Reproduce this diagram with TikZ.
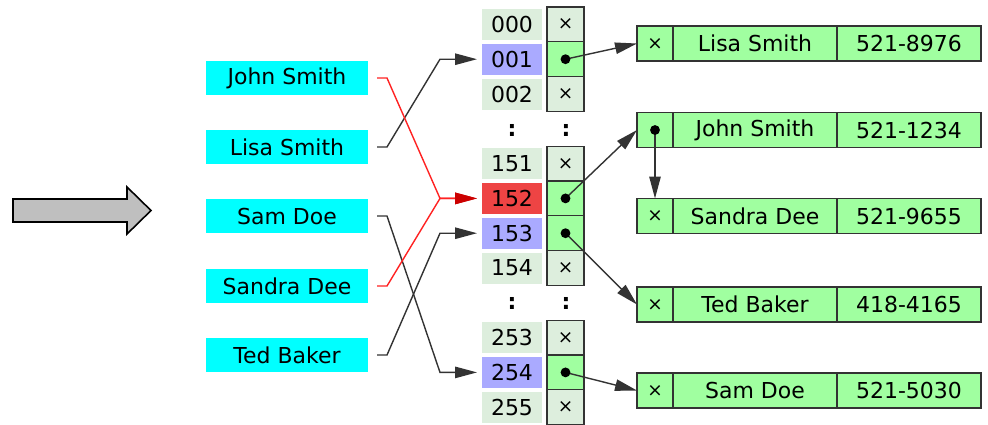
\documentclass[tikz,border=0pt]{standalone}
\usepackage{fontspec}
\setmainfont{DejaVu Sans}
\usetikzlibrary{arrows.meta, positioning, calc}

\definecolor{keycyan}{HTML}{00FFFF}
\definecolor{slotgray}{HTML}{DDEEDD}
\definecolor{slotblue}{HTML}{AAAAFF}
\definecolor{slotred}{HTML}{EE4444}
\definecolor{recgreen}{HTML}{A0FFA0}
\definecolor{edgegray}{HTML}{333333}
\definecolor{linkred}{HTML}{FF2222}
\definecolor{tipred}{HTML}{CC0000}

\def\px{0.02cm}
\newcommand{\nil}{{\fontsize{10.5}{12}\selectfont ×}}

\begin{document}
\begin{tikzpicture}[x=0.02cm, y=-0.02cm, font=\fontsize{12.5}{15}\selectfont]

% Define styles
\tikzstyle{key}=[fill=keycyan, minimum width=162*\px, minimum height=34*\px, inner sep=0pt, outer sep=0pt]
\tikzstyle{slot}=[minimum width=60*\px, minimum height=31*\px, inner sep=0pt, outer sep=0pt]
\tikzstyle{ptrcell}=[draw=edgegray, line width=0.75pt, minimum width=37*\px, minimum height=34.8*\px, inner sep=0pt, outer sep=0pt]
\tikzstyle{reccell}=[draw=edgegray, fill=recgreen, line width=0.75pt, minimum height=35*\px, inner sep=0pt, outer sep=0pt]
\tikzstyle{link}=[line width=0.8pt, draw=edgegray, -{Triangle[length=12.5pt, width=6.5pt]}]
\tikzstyle{bigarrow}=[fill=black!25, draw=black, line width=0.9pt]

% Parameters
\def\slottop{7}
\def\rowh{34.8}

\useasboundingbox (0,0) rectangle (988,424);

% Big arrow
\draw[bigarrow] (13,199) -- (127,199) -- (127,187) -- (151,210.5) -- (127,234) -- (127,222) -- (13,222) -- cycle;

% Keys
\foreach \id/\name/\y in {john/John Smith/78, lisa/Lisa Smith/147, sam/Sam Doe/216, sandra/Sandra Dee/286, ted/Ted Baker/355} {
  \node[key] (k\id) at (287,\y) {\name};
}

% Buckets: index and pointer cells
\foreach \r/\n/\c/\f/\t in {0/000/slotgray/slotgray/\nil, 1/001/slotblue/recgreen/, 2/002/slotgray/slotgray/\nil,
                            4/151/slotgray/slotgray/\nil, 5/152/slotred/recgreen/, 6/153/slotblue/recgreen/, 7/154/slotgray/slotgray/\nil,
                            9/253/slotgray/slotgray/\nil, 10/254/slotblue/recgreen/, 11/255/slotgray/slotgray/\nil} {
  \node[slot, fill=\c] (i\n) at (512, {\slottop+(\r+0.5)*\rowh}) {\n};
  \node[ptrcell, fill=\f] (p\n) at (565.5, {\slottop+(\r+0.5)*\rowh}) {\t};
}

% Gaps between buckets
\foreach \x/\y [count=\i] in {512/130, 566/130, 512/303, 566/303} {
  \node[inner sep=0pt, font=\fontsize{12.5}{15}\selectfont\bfseries] (gap\i) at (\x,\y) {:};
}

% Records
\foreach \id/\name/\tel/\y/\t in {lisa/Lisa Smith/521-8976/43.5/\nil, john/John Smith/521-1234/130/,
                                  sandra/Sandra Dee/521-9655/216/\nil, ted/Ted Baker/418-4165/304.5/\nil, sam/Sam Doe/521-5030/390.5/\nil} {
  \node[reccell, minimum width=36*\px] (r\id p) at (655,\y) {\t};
  \node[reccell, minimum width=164*\px, right=0pt of r\id p] (r\id n) {\name};
  \node[reccell, minimum width=144*\px, right=0pt of r\id n] (r\id t) {\tel};
}

% Hash function lines
\foreach \k/\s in {lisa/001, sam/254, ted/153} {
  \draw[link, shorten >=5*\px] ([xshift=9*\px]k\k.east) -- ++(10,0) -- ($(i\s.west)+(-42,0)$) -- (i\s.west);
}
\foreach \k in {john, sandra} {
  \draw[link, draw=linkred, -{Triangle[length=12.5pt, width=6.5pt, color=tipred]}, shorten >=5*\px]
    ([xshift=9*\px]k\k.east) -- ++(10,0) -- ($(i152.west)+(-42,0)$) -- (i152.west);
}

% Pointers
\foreach \s/\r in {001/lisa, 152/john, 153/ted, 254/sam} {
  \draw[link] (p\s.center) -- (r\r p.west);
  \fill (p\s.center) circle[radius=2.8pt];
}
\draw[link] (rjohnp.center) -- (rsandrap.north);
\fill (rjohnp.center) circle[radius=2.8pt];

\end{tikzpicture}
\end{document}
